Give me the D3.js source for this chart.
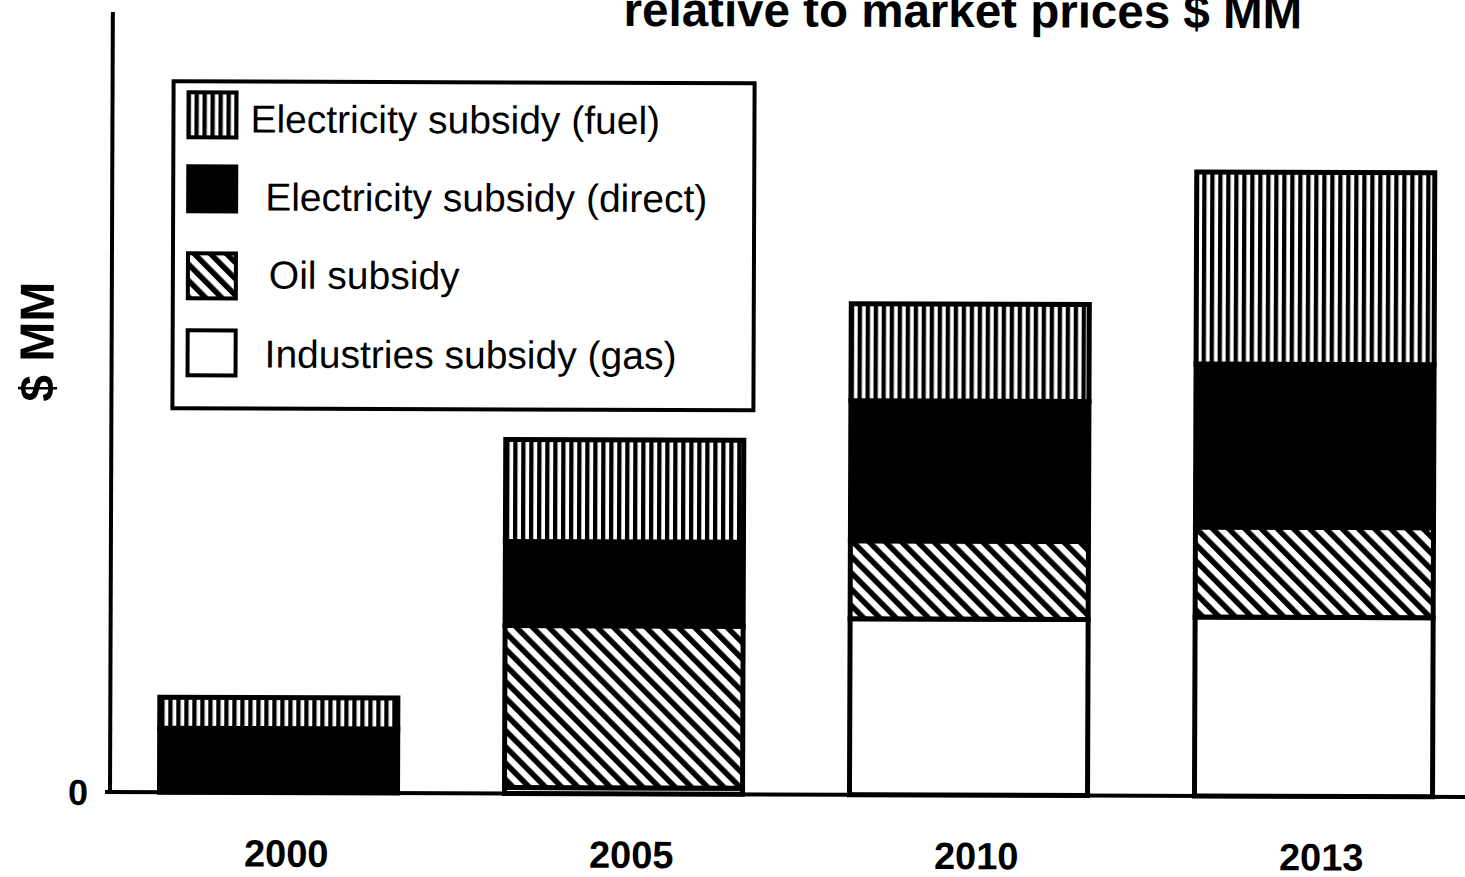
<!DOCTYPE html>
<html>
<head>
<meta charset="utf-8">
<script src="https://cdn.jsdelivr.net/npm/d3@7"></script>
<style>
  body { margin: 0; background: #fff; }
  svg { display: block; font-family: "Liberation Sans", Arial, sans-serif; }
</style>
</head>
<body>
<div id="chart"></div>
<script>
// values (no scale printed, units as drawn)
const years = ['2000', '2005', '2010', '2013'];
const gas    = [0,   6,   176, 179];
const oil    = [0,   162, 78,  90];
const direct = [64,  84,  140, 163];
const fuel   = [31,  102, 97,  192];
const seriesKeys = ['gas', 'oil', 'direct', 'fuel'];
const legendLabels = [
  'Electricity subsidy (fuel)',
  'Electricity subsidy (direct)',
  'Oil subsidy',
  'Industries subsidy (gas)'
];
const yTicks = [0];

const W = 1465, H = 877;
const svg = d3.select('#chart').append('svg')
  .attr('width', W).attr('height', H);

// patterns
const defs = svg.append('defs');
const vp = defs.append('pattern').attr('id', 'vstripe')
  .attr('patternUnits', 'userSpaceOnUse').attr('width', 8).attr('height', 8);
vp.append('rect').attr('width', 8).attr('height', 8).attr('fill', '#fff');
vp.append('rect').attr('width', 4.3).attr('height', 8).attr('fill', '#000');

const dp = defs.append('pattern').attr('id', 'diag')
  .attr('patternUnits', 'userSpaceOnUse').attr('width', 11.5).attr('height', 11.5)
  .attr('patternTransform', 'rotate(-45)');
dp.append('rect').attr('width', 11.5).attr('height', 11.5).attr('fill', '#fff');
dp.append('rect').attr('width', 5.5).attr('height', 11.5).attr('fill', '#000');

const fills = { gas: '#fff', oil: 'url(#diag)', direct: '#000', fuel: 'url(#vstripe)' };

// scanned page is slightly tilted
const g = svg.append('g').attr('transform', 'rotate(0.21,110,792)');

const x = d3.scaleBand().domain(years).range([106, 1486])
  .paddingInner(0.31).paddingOuter(0.155);
const y = d3.scaleLinear().domain([0, 780]).range([792, 12]);

const table = years.map((yr, i) => ({
  year: yr, gas: gas[i], oil: oil[i], direct: direct[i], fuel: fuel[i]
}));
const stacked = d3.stack().keys(seriesKeys)(table);

// bars
stacked.forEach(layer => {
  g.append('g').selectAll('rect').data(layer.filter(d => d[1] > d[0]))
    .enter().append('rect')
    .attr('x', d => x(d.data.year))
    .attr('y', d => y(d[1]))
    .attr('width', x.bandwidth())
    .attr('height', d => y(d[0]) - y(d[1]))
    .attr('fill', fills[layer.key])
    .attr('stroke', '#000')
    .attr('stroke-width', 5);
});

// axes
g.append('line')
  .attr('x1', 110).attr('x2', 110)
  .attr('y1', y(780)).attr('y2', y(0) + 2)
  .attr('stroke', '#000').attr('stroke-width', 4);
g.append('line')
  .attr('x1', 105).attr('x2', 1470)
  .attr('y1', y(0)).attr('y2', y(0))
  .attr('stroke', '#000').attr('stroke-width', 4);

g.selectAll('.ytick').data(yTicks).enter().append('text')
  .attr('x', 78).attr('y', d => y(d) + 13)
  .attr('text-anchor', 'middle')
  .attr('font-size', 36).attr('font-weight', 'bold')
  .text(d => d);

g.selectAll('.xlab').data(years).enter().append('text')
  .attr('x', d => x(d) + x.bandwidth() / 2 + 8)
  .attr('y', 866)
  .attr('text-anchor', 'middle')
  .attr('font-size', 38).attr('font-weight', 'bold')
  .text(d => d);

// y label
g.append('text')
  .attr('transform', 'translate(52,342) rotate(-90)')
  .attr('text-anchor', 'middle')
  .attr('font-size', 48).attr('font-weight', 'bold')
  .text('$ MM');

// title (top line cut off in the scan)
g.append('text')
  .attr('x', 960).attr('y', 24)
  .attr('text-anchor', 'middle')
  .attr('font-size', 47.5).attr('font-weight', 'bold')
  .text('relative to market prices $ MM');

// legend
const leg = g.append('g');
leg.append('rect')
  .attr('x', 171).attr('y', 81).attr('width', 581).attr('height', 327)
  .attr('fill', '#fff').attr('stroke', '#000').attr('stroke-width', 4);
const legKeys = ['fuel', 'direct', 'oil', 'gas'];
const rowY = [92, 166, 253, 330];
const textY = [132, 210, 288, 367];
const textX = [248, 263, 267, 263];
legKeys.forEach((k, i) => {
  leg.append('rect')
    .attr('x', 186).attr('y', rowY[i]).attr('width', 48).attr('height', 45)
    .attr('fill', fills[k]).attr('stroke', '#000').attr('stroke-width', 4);
  leg.append('text')
    .attr('x', textX[i]).attr('y', textY[i])
    .attr('font-size', 39)
    .text(legendLabels[i]);
});
</script>
</body>
</html>
